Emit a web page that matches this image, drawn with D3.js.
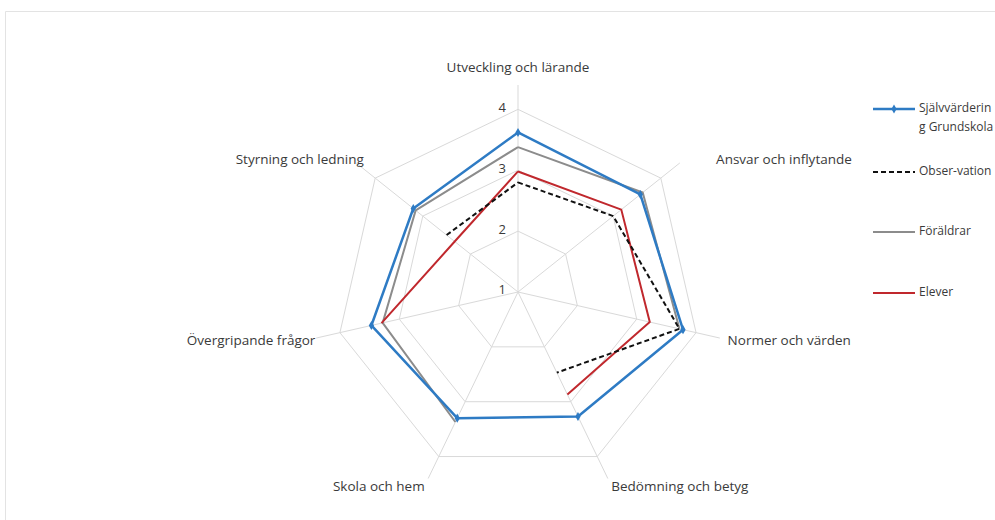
<!DOCTYPE html>
<html>
<head>
<meta charset="utf-8">
<script src="https://cdn.jsdelivr.net/npm/d3@7"></script>
<style>
  body { margin: 0; background: #fff; }
  svg { display: block; font-family: "Open Sans", sans-serif; }
</style>
</head>
<body>
<svg id="chart" width="995" height="520"></svg>
<script>
// categories, clockwise from the top
var categories = ['Utveckling och lärande', 'Ansvar och inflytande', 'Normer och värden',
  'Bedömning och betyg', 'Skola och hem', 'Övergripande frågor', 'Styrning och ledning'];
var ticks = [1, 2, 3, 4];

// series values (null = no value, line is broken there)
var sjalv = [3.62, 3.57, 3.78, 3.27, 3.30, 3.47, 3.20];
var observation = [2.80, 3.00, 3.72, 2.47, null, null, 2.50];
var foraldrar = [3.38, 3.62, 3.72, null, 3.37, 3.28, 3.15];
var elever = [2.98, 3.17, 3.22, 2.87, null, 3.30, 2.33];

var seriesNames = ['Självvärdering Grundskola', 'Obser-vation', 'Föräldrar', 'Elever'];

// small horizontal nudges for the category labels
var labelNudge = [0, 30, 0, 0, 0, 7, 14];

var svg = d3.select('#chart');
var cx = 518, cy = 292;

var r = d3.scaleLinear().domain([1, 4.4]).range([0, 207]);
var angle = d3.scalePoint().domain(d3.range(categories.length)).range([0, 2 * Math.PI * (categories.length - 1) / categories.length]);

function pt(i, v) {
  var a = angle(i);
  return [cx + Math.sin(a) * r(v), cy - Math.cos(a) * r(v)];
}

// frame
svg.append('path')
  .attr('d', 'M5.5,520 L5.5,11.5 L995,11.5')
  .attr('fill', 'none').attr('stroke', '#e3e3e3').attr('stroke-width', 1);

var g = svg.append('g');

// grid polygons
ticks.slice(1).forEach(function(t) {
  var pts = categories.map(function(c, i) { return pt(i, t); });
  g.append('polygon')
    .attr('points', pts.map(function(p) { return p.join(','); }).join(' '))
    .attr('fill', 'none').attr('stroke', '#d9d9d9').attr('stroke-width', 1);
});

// spokes
categories.forEach(function(c, i) {
  var p = pt(i, r.domain()[1]);
  g.append('line')
    .attr('x1', cx).attr('y1', cy).attr('x2', p[0]).attr('y2', p[1])
    .attr('stroke', '#d9d9d9').attr('stroke-width', 1);
});

// tick labels
ticks.forEach(function(t) {
  g.append('text')
    .attr('x', cx - 12).attr('y', cy - r(t) - 1)
    .attr('text-anchor', 'end').attr('dominant-baseline', 'middle')
    .attr('font-size', 13).attr('fill', '#3a3a3a')
    .text(t);
});

// category labels
categories.forEach(function(c, i) {
  var a = angle(i);
  var p = pt(i, r.invert(215));
  var s = Math.sin(a);
  var anchor = Math.abs(s) < 0.1 ? 'middle' : (s > 0 ? 'start' : 'end');
  var y = p[1];
  if (i === 0) y -= 11;
  g.append('text')
    .attr('x', p[0] + labelNudge[i]).attr('y', y + 2)
    .attr('text-anchor', anchor).attr('dominant-baseline', 'middle')
    .attr('font-size', 13.5).attr('fill', '#3a3a3a')
    .text(c);
});

var line = d3.lineRadial()
  .defined(function(d) { return d.v != null; })
  .angle(function(d) { return d.wrap ? 2 * Math.PI : angle(d.i); })
  .radius(function(d) { return r(d.v); });

function series(vals, color, width, dash) {
  var pts = vals.map(function(v, i) { return { i: i, v: v }; });
  // wrap back to the first category
  pts.push({ i: 0, v: vals[0], wrap: true });
  g.append('path')
    .attr('transform', 'translate(' + cx + ',' + cy + ')')
    .attr('d', line(pts))
    .attr('fill', 'none').attr('stroke', color).attr('stroke-width', width)
    .attr('stroke-dasharray', dash || null)
    .attr('stroke-linejoin', 'round');
}

series(foraldrar, '#8c8c8c', 2);
series(elever, '#c0282d', 2);
series(observation, '#111', 2, '5,3');
series(sjalv, '#2e7bc4', 2.5);

// markers on the blue series
sjalv.forEach(function(v, i) {
  var p = pt(i, v);
  g.append('path')
    .attr('d', d3.symbol(d3.symbolDiamond).size(24)())
    .attr('transform', 'translate(' + p[0] + ',' + p[1] + ')')
    .attr('fill', '#2e7bc4');
});

// legend
var legendY = [109, 172, 232, 293];
var legendColors = ['#2e7bc4', '#111', '#8c8c8c', '#c0282d'];
var legendDash = [null, '5,3', null, null];
var leg = svg.append('g');
seriesNames.forEach(function(n, i) {
  leg.append('line')
    .attr('x1', 873).attr('x2', 915).attr('y1', legendY[i]).attr('y2', legendY[i])
    .attr('stroke', legendColors[i]).attr('stroke-width', i === 0 ? 2.5 : 2)
    .attr('stroke-dasharray', legendDash[i]);
  if (i === 0) {
    leg.append('path')
      .attr('d', d3.symbol(d3.symbolDiamond).size(24)())
      .attr('transform', 'translate(894,' + legendY[i] + ')')
      .attr('fill', legendColors[i]);
  }
  var t = leg.append('text')
    .attr('x', 919).attr('y', legendY[i])
    .attr('dominant-baseline', 'middle')
    .attr('font-size', 12).attr('fill', '#3a3a3a');
  if (i === 0) {
    t.append('tspan').attr('x', 919).text('Självvärderin');
    t.append('tspan').attr('x', 919).attr('dy', 19).text('g Grundskola');
  } else {
    t.text(n);
  }
});
</script>
</body>
</html>
